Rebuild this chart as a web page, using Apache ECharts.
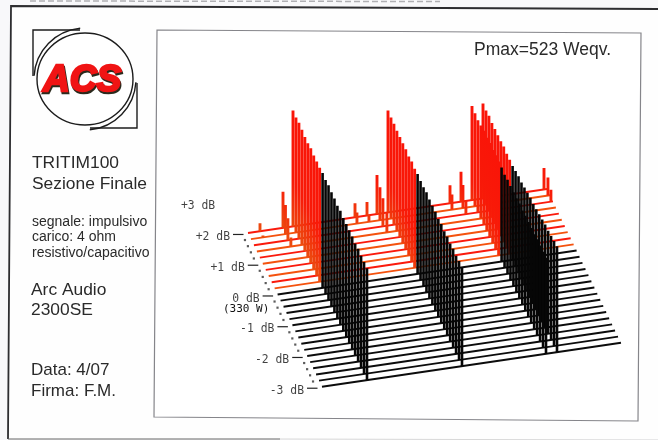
<!DOCTYPE html>
<html><head><meta charset="utf-8">
<style>html,body{margin:0;padding:0;background:#f8f8fa}#c{width:658px;height:440px}</style>
<script src="https://cdn.jsdelivr.net/npm/echarts@6/dist/echarts.min.js"></script>
</head><body><div id="c"></div>
<script>
// dB level of every trace, back to front
const levels = [2,1.8,1.6,1.4,1.2,1,0.8,0.6,0.4,0.2,0,-0.2,-0.4,-0.6,-0.8,-1,-1.2,-1.4,-1.6,-1.8,-2,-2.2,-2.4,-2.6,-2.8,-3];
// main burst positions along a trace (sample units) and their heights per trace
const burstOffsets = [45, 140, 224, 235];
const burstA = [116,115,116,115,114,114,115,114,114,114,115,114,115,114,114,113,114,113,113,113,113,112,113,112,112,112];
const burstB = [102,101,101,100,100,100,100,99,100,99,100,99,99,100,99,99,99,98,99,98,99,98,99,98,99,99];
const burstC = [94,93,92,93,94,93,94,93,94,94,94,93,94,94,94,94,95,94,95,95,95,95,96,96,96,96];
const burstD = [95,94,95,94,94,94,94,95,94,94,94,95,96,96,97,98,99,99,100,101,102,103,103,104,105,106];
// smaller pre-peaks: [trace index, position, height]
const smallPeaks = [[0,12,8],[1,12,2],[0,35,36],[1,34.5,29],[2,34,22],[3,34,9],[0,107,14],[1,106,11],[0,119,13.5],[1,118,7],
  [0,129,39],[1,129,33],[2,129,28],[3,130,20],[0,202,18],[1,201,15],[0,213,30],[1,212,23],[2,212,14],[0,296,21.5],[1,297,18],[2,297,12]];
const tickLevels = [2,1,0,-1,-2,-3];
const dbLabels = [[3,'+3 dB'],[2,'+2 dB'],[1,'+1 dB'],[0,'0 dB'],[-1,'-1 dB'],[-2,'-2 dB'],[-3,'-3 dB']];
const traceLength = 299;

// oblique projection of (position, level, height) on the plane
const skewX = 14.8, riseY = 30.75, slope = 0.147;
function project(off, level, h){ return [off + (2-level)*skewX, (level-2)*riseY + slope*off + (h||0)]; }

const allBursts = [burstA, burstB, burstC, burstD];
const series = [];
levels.forEach((lv, i) => {
  const peaks = allBursts.map((b, k) => [burstOffsets[k], b[i]]);
  smallPeaks.filter(p => p[0] === i).forEach(p => peaks.push([p[1], p[2]]));
  const red = lv > 0;
  const spikes = [];
  peaks.forEach(p => { spikes.push(project(p[0], lv, 0), project(p[0], lv, p[1]), ['-','-']); });
  series.push({
    type:'line', data:[project(0,lv,0), project(traceLength,lv,0)], symbol:'none', silent:true, z:2,
    lineStyle:{color: red ? (i%2 ? '#f4520e' : '#fa1a0c') : '#0c0c0c', width:1.9, cap:'butt'}
  });
  series.push({
    type:'line', data:spikes, symbol:'none', silent:true, z:2,
    lineStyle:{color: red ? {type:'linear', x:0, y:0, x2:0, y2:1, colorStops:[
        {offset:0, color:'#fa1408'},{offset:0.6, color:'#f81a08'},{offset:1, color:'#ea5010'}]} : '#060606',
      width: red ? 2.9 : 2.6, cap:'butt'}
  });
});
// ticks
tickLevels.forEach(lv => {
  const a = project(-15, lv, 0), b = project(-4.5, lv, 0);
  const y = project(-10, lv, 0)[1];
  series.push({type:'line', symbol:'none', silent:true, z:3,
    data:[[a[0],y],[b[0],y]], lineStyle:{color:'#222', width:1.2}});
});
// dots between ticks
series.push({type:'scatter', silent:true, z:3, symbol:'rect', symbolSize:2.2,
  itemStyle:{color:'#333'},
  data: levels.filter(l => !tickLevels.includes(l)).map(l => project(-6, l, 0))});
// dB labels
series.push({type:'scatter', silent:true, z:3, symbolSize:0.01,
  data: dbLabels.map(d => { const p = project(-18, d[0], 0); return {value:[p[0], p[1]-1.5], name:d[1]}; }),
  label:{show:true, position:'left', distance:0, formatter:o=>o.name,
    fontFamily:'"DejaVu Sans Mono"', fontSize:11.4, color:'#111'}});

const txt = (x,y,s,size,extra) => ({type:'text', x, y, silent:true, z:10,
  style:Object.assign({text:s, fill:'#2a2a2a', font:size+'px "Liberation Sans"', textVerticalAlign:'middle', textBaseline:'middle'}, extra||{})});
const poly = (pts,color,w,extra) => ({type:'polyline', silent:true, z:1, shape:{points:pts}, style:Object.assign({stroke:color, lineWidth:w, fill:null}, extra||{})});
const arc = (cx,cy,r,a,b,w) => ({type:'arc', silent:true, z:5, shape:{cx,cy,r,startAngle:a,endAngle:b,clockwise:true}, style:{stroke:'#1c1c1c', lineWidth:w, fill:null}});

const graphics = [
  {type:'polygon', silent:true, z:0, shape:{points:[[11,7],[658,9],[658,439],[8,439]]}, style:{fill:'#fefefe', stroke:null}},
  poly([[658,9],[11,6],[8,439]],'#2d2d30',1.8),
  poly([[8,439],[280,439]],'#666',1.2),
  poly([[280,439],[658,440]],'#d8d8d8',1),
  poly([[30,1],[440,1.5]],'#b0b0b4',1.5,{lineDash:[6,3]}),
  {type:'polygon', silent:true, z:1, shape:{points:[[157,30],[641,33],[638,421],[154,417]]}, style:{fill:'#ffffff', stroke:'#85858a', lineWidth:1.2}},
  // logo
  poly([[33,76],[33,30],[80,30]],'#1c1c1c',1.4),
  poly([[137,83],[137,128],[90,128]],'#1c1c1c',1.4),
  {type:'ellipse', silent:true, z:5, shape:{cx:85,cy:79,rx:48,ry:46}, style:{stroke:'#1c1c1c', lineWidth:1.4, fill:'#fff'}},
  arc(85,79,51,Math.PI*1.02,Math.PI*1.47,1.4),
  arc(85,79,51,0.02*Math.PI,0.47*Math.PI,1.4),
  txt(44,83,'ACS',37,{font:'italic bold 37px "Liberation Sans"', fill:'#2b2b1e', stroke:'#2b2b1e', lineWidth:2.6}),
  Object.assign(txt(43,81,'ACS',37,{font:'italic bold 37px "Liberation Sans"', fill:'#f01414', stroke:'#f01414', lineWidth:2.4}),{z:11}),
  // left notes
  txt(32,163,'TRITIM100',17.4), txt(32,184,'Sezione Finale',17.4),
  txt(32,222,'segnale: impulsivo',14), txt(32,237,'carico: 4 ohm',14), txt(32,253,'resistivo/capacitivo',14),
  txt(31,290,'Arc Audio',17.4), txt(31,310,'2300SE',17.4),
  txt(31,370,'Data: 4/07',17), txt(31,391,'Firma: F.M.',17),
  txt(474,50,'Pmax=523 Weqv.',17.5),
  {type:'text', x:223, y:309, silent:true, z:10, style:{text:'(330 W)', fill:'#111', font:'11px "DejaVu Sans Mono"', textBaseline:'middle', textVerticalAlign:'middle'}}
];

const chart = echarts.init(document.getElementById('c'), null, {renderer:'canvas'});
chart.setOption({
  animation:false, backgroundColor:'transparent',
  grid:{left:0, right:0, top:0, bottom:0},
  xAxis:{type:'value', min:-248, max:410, show:false},
  yAxis:{type:'value', min:-207, max:233, show:false},
  graphic:{elements:graphics},
  series
});
</script></body></html>
